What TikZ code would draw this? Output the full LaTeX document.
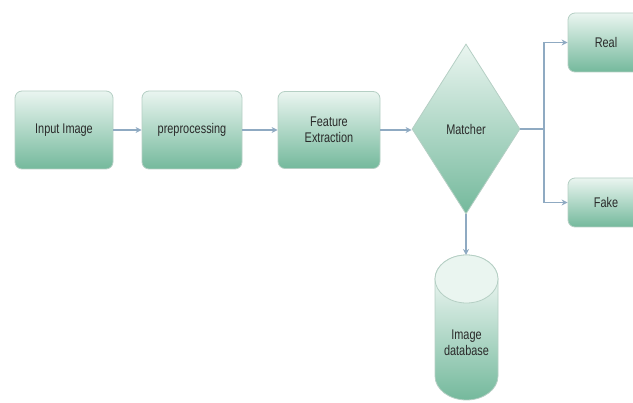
\documentclass[tikz,border=0pt]{standalone}
\usepackage{fontspec}
\setmainfont{Liberation Sans}[FakeStretch=0.78]
\usetikzlibrary{shapes.geometric,arrows.meta}
\definecolor{boxtop}{HTML}{EAF5F0}
\definecolor{boxbot}{HTML}{74B99C}
\definecolor{boxline}{HTML}{B5CFC4}
\definecolor{arrowc}{HTML}{8FAAC2}
\definecolor{txt}{HTML}{2A2A2A}
\begin{document}
\begin{tikzpicture}[x=1pt,y=-1pt,
  stepbox/.style={draw=boxline, line width=0.8pt, rounded corners=7pt,
    top color=boxtop, bottom color=boxbot, text=txt,
    font=\fontsize{14}{15.5}\selectfont, align=center, inner sep=0pt},
  conn/.style={draw=arrowc, line width=1.3pt, -{Stealth[length=6pt,width=6pt]}},
  plainconn/.style={draw=arrowc, line width=1.3pt}]
\useasboundingbox (0,0) rectangle (633,403);
\clip (0,0) rectangle (633,403);

\node[stepbox, minimum width=98pt, minimum height=78pt] (inp) at (64,130) {Input Image};
\node[stepbox, minimum width=100pt, minimum height=78pt] (pre) at (192,130) {preprocessing};
\node[stepbox, minimum width=102pt, minimum height=77pt] (fe) at (329,130) {Feature\\Extraction};
\node[stepbox, shape=diamond, rounded corners=0pt, aspect=0.635, minimum width=108pt, minimum height=170pt] (match) at (466,129) {Matcher};
\node[stepbox, minimum width=76pt, minimum height=59pt] (real) at (606,42.5) {Real};
\node[stepbox, minimum width=76pt, minimum height=49pt] (fake) at (606,202.5) {Fake};

% cylinder (image database)
\path[draw=boxline, line width=0.8pt, top color=white, bottom color=boxbot]
  (435,279) -- (435,376) arc[start angle=180, end angle=360, x radius=31.5, y radius=-24]
  -- (498,279) arc[start angle=0, end angle=180, x radius=31.5, y radius=-24] -- cycle;
\path[draw=boxline, line width=0.8pt, fill=boxtop]
  (466.5,279) ellipse[x radius=31.5, y radius=24];
\node[text=txt, font=\fontsize{14}{16}\selectfont, align=center] (db) at (466.5,343) {Image\\database};
\coordinate (dbtop) at (466,255);
\coordinate (junc) at (544,129);

\draw[conn] (inp.east) -- (pre.west);
\draw[conn] (pre.east) -- (fe.west);
\draw[conn] (fe.east) -- (fe.east -| match.west);
\draw[plainconn] (match.east) -- (junc);
\draw[conn] (junc) |- (real.west);
\draw[conn] (junc) |- (fake.west);
\draw[conn] (match.south) -- (dbtop);
\end{tikzpicture}
\end{document}
